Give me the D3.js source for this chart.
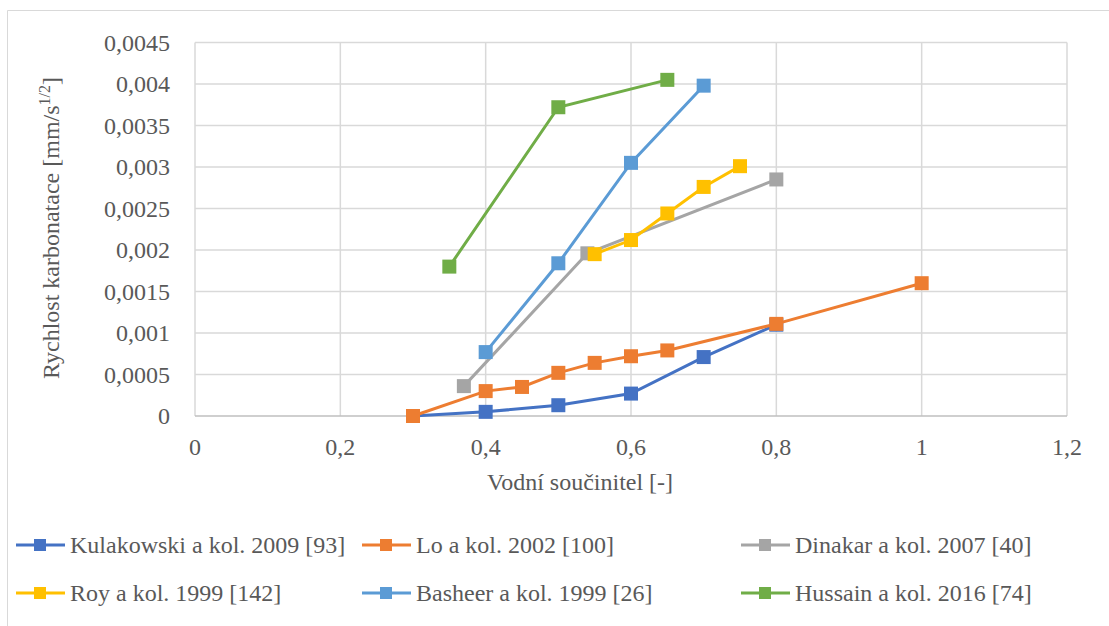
<html>
<head>
<script src="https://d3js.org/d3.v7.min.js"></script>
</head>
<body style="margin:0">
<svg id="fig" width="1109" height="626"></svg>
<script>
    // series data: [water/cement ratio, carbonation rate]
    var names = ['Kulakowski a kol. 2009 [93]', 'Lo a kol. 2002 [100]', 'Dinakar a kol. 2007 [40]',
                 'Roy a kol. 1999 [142]', 'Basheer a kol. 1999 [26]', 'Hussain a kol. 2016 [74]'];
    var colors = ['#4472c4', '#ed7d31', '#a5a5a5', '#ffc000', '#5b9bd5', '#70ad47'];

    var kulakowski = [[0.3, 0], [0.4, 0.00005], [0.5, 0.00013], [0.6, 0.00027], [0.7, 0.00071], [0.8, 0.0011]];
    var lo = [[0.3, 0], [0.4, 0.0003], [0.45, 0.00035], [0.5, 0.00052], [0.55, 0.00064], [0.6, 0.00072],
              [0.65, 0.00079], [0.8, 0.00111], [1.0, 0.0016]];
    var dinakar = [[0.37, 0.00036], [0.54, 0.00196], [0.8, 0.00285]];
    var roy = [[0.55, 0.00195], [0.6, 0.00212], [0.65, 0.00244], [0.7, 0.00276], [0.75, 0.00301]];
    var basheer = [[0.4, 0.00077], [0.5, 0.00184], [0.6, 0.00305], [0.7, 0.00398]];
    var hussain = [[0.35, 0.0018], [0.5, 0.00372], [0.65, 0.00405]];

    var series = [kulakowski, lo, dinakar, roy, basheer, hussain];

    var xTicks = [0, 0.2, 0.4, 0.6, 0.8, 1, 1.2];
    var yTicks = [0, 0.0005, 0.001, 0.0015, 0.002, 0.0025, 0.003, 0.0035, 0.004, 0.0045];

    var TXT = '#595959';

    var width = 1109, height = 626;
    var svg = d3.select('#fig');

    // all text in Times-like serif
    function serif(sel, size) {
        sel.style('font-family', "'Liberation Serif'")
           .style('font-size', size + 'px')
           .style('fill', TXT);
    }

    // outer chart border
    svg.append('path')
        .attr('d', 'M7.5,' + height + 'V10.5H' + width)
        .attr('fill', 'none')
        .attr('stroke', '#d9d9d9')
        .attr('stroke-width', 1);

    var x = d3.scaleLinear().domain([0, 1.2]).range([195, 1067]);
    var y = d3.scaleLinear().domain([0, 0.0045]).range([416, 42.5]);

    var fmt = function (v) { return String(+v.toFixed(4)).replace('.', ','); };

    // gridlines
    svg.append('g').selectAll('line').data(xTicks).enter().append('line')
        .attr('x1', function (d) { return x(d); }).attr('x2', function (d) { return x(d); })
        .attr('y1', y(0)).attr('y2', y(0.0045))
        .attr('stroke', '#d9d9d9').attr('stroke-width', 1.5);
    svg.append('g').selectAll('line').data(yTicks.slice(1)).enter().append('line')
        .attr('x1', x(0)).attr('x2', x(1.2))
        .attr('y1', function (d) { return y(d); }).attr('y2', function (d) { return y(d); })
        .attr('stroke', '#d9d9d9').attr('stroke-width', 1.5);

    // x tick labels
    svg.append('g').selectAll('text').data(xTicks).enter().append('text')
        .attr('x', function (d) { return x(d); })
        .attr('y', 455)
        .attr('text-anchor', 'middle')
        .text(fmt)
        .call(serif, 24);

    // y tick labels
    svg.append('g').selectAll('text').data(yTicks).enter().append('text')
        .attr('x', 170)
        .attr('y', function (d) { return y(d) + 8; })
        .attr('text-anchor', 'end')
        .text(fmt)
        .call(serif, 24);

    // x axis line
    svg.append('line')
        .attr('x1', x(0)).attr('x2', x(1.2)).attr('y1', y(0)).attr('y2', y(0))
        .attr('stroke', '#bfbfbf').attr('stroke-width', 1.5);

    // axis titles
    svg.append('text')
        .attr('x', 580).attr('y', 490)
        .attr('text-anchor', 'middle')
        .text('Vodní součinitel [-]')
        .call(serif, 24);

    var yt = svg.append('text')
        .attr('transform', 'translate(59,228) rotate(-90)')
        .attr('text-anchor', 'middle')
        .call(serif, 24);
    yt.append('tspan').text('Rychlost karbonatace [mm/s');
    yt.append('tspan').attr('dy', -9).style('font-size', '16px').text('1/2');
    yt.append('tspan').attr('dy', 9).text(']');

    // lines and markers
    var line = d3.line()
        .x(function (d) { return x(d[0]); })
        .y(function (d) { return y(d[1]); });

    series.forEach(function (s, i) {
        var g = svg.append('g');
        g.append('path')
            .datum(s)
            .attr('d', line)
            .attr('fill', 'none')
            .attr('stroke', colors[i])
            .attr('stroke-width', 3);
        g.selectAll('rect').data(s).enter().append('rect')
            .attr('x', function (d) { return x(d[0]) - 7; })
            .attr('y', function (d) { return y(d[1]) - 7; })
            .attr('width', 14).attr('height', 14)
            .attr('fill', colors[i]);
    });

    // legend
    var legX = [16, 362, 741];
    var legY = [545, 593];
    names.forEach(function (n, i) {
        var lx = legX[i % 3], ly = legY[Math.floor(i / 3)];
        var g = svg.append('g').attr('transform', 'translate(' + lx + ',' + ly + ')');
        g.append('line').attr('x1', 0).attr('x2', 49).attr('y1', 0).attr('y2', 0)
            .attr('stroke', colors[i]).attr('stroke-width', 3);
        g.append('rect').attr('x', 18).attr('y', -6).attr('width', 12).attr('height', 12)
            .attr('fill', colors[i]);
        g.append('text').attr('x', 54).attr('y', 8)
            .text(n)
            .call(serif, 24);
    });
</script>
</body>
</html>
